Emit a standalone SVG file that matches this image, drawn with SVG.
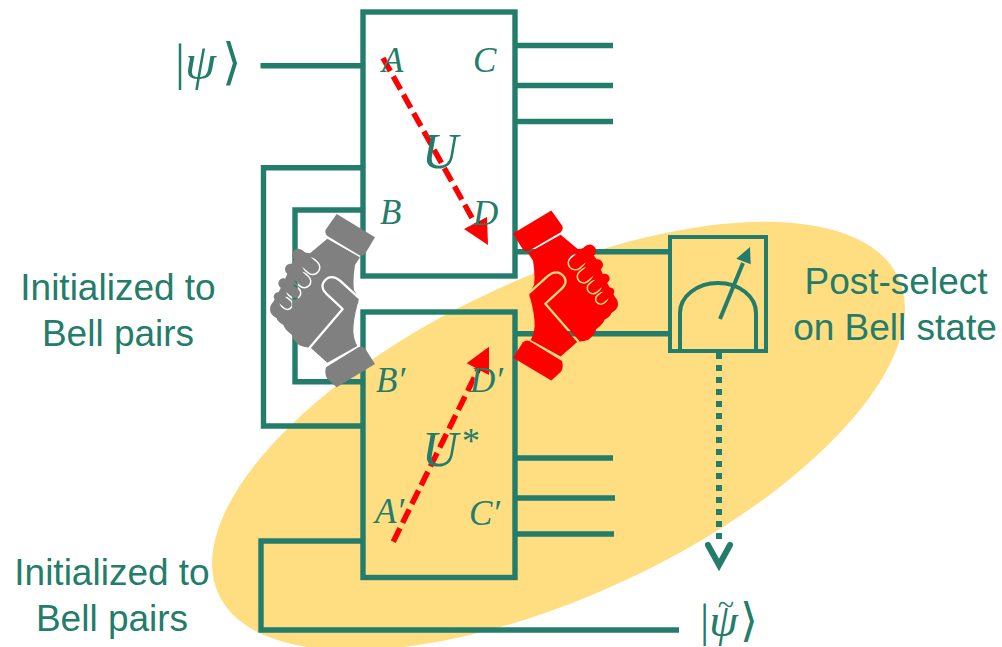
<svg xmlns="http://www.w3.org/2000/svg" xmlns:xlink="http://www.w3.org/1999/xlink" width="1002" height="647" viewBox="0 0 1002 647">
<style>
.w{fill:none;stroke:#247C6A;stroke-width:5.4}
.m{fill:none;stroke:#247C6A;stroke-width:4}
.s{font-family:"Liberation Sans",Arial,sans-serif;font-size:37px;fill:#247C6A;text-anchor:middle}
.i{font-family:"Liberation Serif","DejaVu Serif",serif;font-style:italic;fill:#247C6A;font-size:35px}
.r{fill:none;stroke:#FF0000;stroke-width:5.5;stroke-dasharray:15 6}
</style>
<defs>
<mask id="cuts" maskUnits="userSpaceOnUse" x="0" y="0" width="420" height="630">
<rect x="0" y="0" width="420" height="630" fill="#fff"/>
<g fill="none" stroke-linecap="round" stroke-linejoin="round">
<path d="M180,225L188,232" stroke="#000" stroke-width="47"/>
<path d="M145,195L188,232" stroke="#fff" stroke-width="38"/>
<path d="M155,267L163,274" stroke="#000" stroke-width="43"/>
<path d="M122,238L163,274" stroke="#fff" stroke-width="34"/>
<path d="M128,303L135,309" stroke="#000" stroke-width="39"/>
<path d="M100,280L135,309" stroke="#fff" stroke-width="30"/>
<path d="M106,338L112,343" stroke="#000" stroke-width="35"/>
<path d="M84,320L112,343" stroke="#fff" stroke-width="26"/>
</g>
<g fill="none" stroke="#000" stroke-width="7" stroke-linecap="round" stroke-linejoin="round">
<path d="M180,472L278,357L228,310Q205,285 232,265Q250,255 270,272L325,322"/>
</g>
</mask>
<g id="hand" mask="url(#cuts)">
<path d="M260,72L375,142L345,192Q337,200 328,196L232,138Q222,128 228,118Z"/>
<path d="M232,146L330,202L315,225Q308,270 312,300L325,322Q328,332 322,345Q310,390 310,425Q312,450 322,468L232,518L180,472Q165,474 148,466Q130,452 125,434Q105,420 100,405Q82,395 80,385Q60,375 60,358Q60,345 70,335L100,280L125,220L150,185L180,190Z"/>
<path d="M325,472Q335,466 345,475L375,522L260,592L232,566Q222,552 228,532Z"/>
<g fill="none" stroke-linecap="round" stroke="currentColor">
<path d="M145,195L188,232" stroke-width="38"/>
<path d="M122,238L163,274" stroke-width="34"/>
<path d="M100,280L135,309" stroke-width="30"/>
<path d="M84,320L112,343" stroke-width="26"/>
</g>
</g>
</defs>
<ellipse id="bell-ellipse" cx="558.5" cy="436" rx="375" ry="159" transform="rotate(-25 558.5 436)" fill="#FFDD81"/>
<g id="connectors">
<path class="w" d="M260.5,65.7H363"/>
<path class="w" d="M363,167.7H263.5V426H363"/>
<path class="w" d="M363,210H295V381.7H363"/>
<path class="w" d="M515,45.5H613M515,85.5H613M515,121.5H613"/>
<path class="w" d="M515,458H613M515,498H615M515,534H614"/>
<path class="w" d="M363,541H261V630H679"/>
<path class="w" d="M515,251.7H670M515,333.7H670"/>
<path d="M719,353V545" fill="none" stroke="#247C6A" stroke-width="6" stroke-dasharray="6 6"/>
<path d="M708,545L719,565L730,545" fill="none" stroke="#247C6A" stroke-width="6" stroke-linecap="round"/>
<path class="r" d="M383,58L476,225"/>
<path d="M488,245L464,229L487,217Z" fill="#FF0000"/>
<path class="r" d="M393.3,541.7L479,368"/>
<path d="M489,346.7L466.7,363.3L489,375Z" fill="#FF0000"/>
</g>
<g id="box-U">
<rect class="w" x="363" y="12" width="152" height="264"/>
<text class="i" x="382" y="72">A</text>
<text class="i" x="473" y="72">C</text>
<text class="i" x="380" y="224">B</text>
<text class="i" x="473" y="225">D</text>
<text class="i" x="422" y="168" style="font-size:50px">U</text>
</g>
<g id="box-U-star">
<rect class="w" x="363" y="312" width="152" height="265.5"/>
<text class="i" x="376" y="392">B′</text>
<text class="i" x="470" y="392">D′</text>
<text class="i" x="375" y="523">A′</text>
<text class="i" x="469" y="525">C′</text>
<text class="i" x="422" y="466" style="font-size:50px">U<tspan dx="4" dy="-13" font-style="normal" font-size="36">*</tspan></text>
</g>
<g id="meter">
<rect class="m" x="670" y="237" width="96" height="114"/>
<path class="m" d="M680,349V313A38,30 0 0 1 756,313V349"/>
<path class="m" d="M720,319L743,263"/>
<path d="M750,247L736.3,258.7L750.7,264.3Z" fill="#247C6A"/>
</g>
<g id="hand-grey" color="#808080"><use xlink:href="#hand" href="#hand" fill="#808080" transform="translate(250,190) scale(0.3333)"/></g>
<g id="hand-red" color="#FF0000"><use xlink:href="#hand" href="#hand" fill="#FF0000" transform="translate(638,187) scale(-0.3333,0.327)"/></g>
<g id="labels">
<text class="i" x="175" y="79" style="font-size:50px;font-style:normal">|<tspan font-style="italic">ψ</tspan><tspan dx="6">⟩</tspan></text>
<text class="i" x="700" y="636" style="font-size:46px;font-style:normal">|<tspan font-style="italic">ψ</tspan><tspan dx="-20" dy="-21" font-size="30">~</tspan><tspan dx="6" dy="21">⟩</tspan></text>
<text class="s" x="118" y="300">Initialized to</text>
<text class="s" x="118" y="346">Bell pairs</text>
<text class="s" x="112" y="585">Initialized to</text>
<text class="s" x="112" y="631">Bell pairs</text>
<text class="s" x="896" y="294">Post-select</text>
<text class="s" x="895" y="340">on Bell state</text>
</g>
</svg>
